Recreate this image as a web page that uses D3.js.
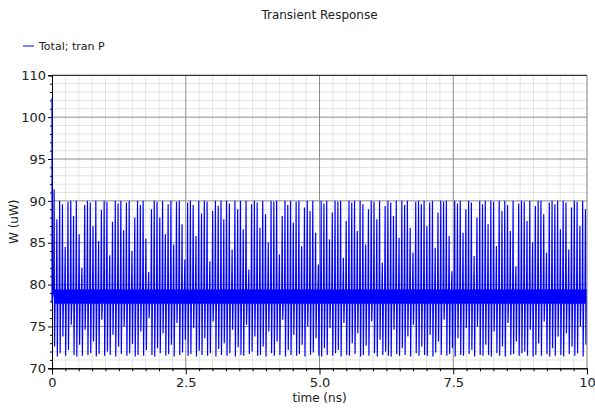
<!DOCTYPE html>
<html><head><meta charset="utf-8">
<script src="https://cdn.jsdelivr.net/npm/d3@7"></script>
<style>body{margin:0;background:#fff} text{font-family:"DejaVu Sans",sans-serif}</style>
</head><body><svg id="c" width="595" height="408"></svg>
<script>
const title = "Transient Response";
const seriesName = "Total; tran P";
const xLabel = "time (ns)";
const yLabel = "W (uW)";
const xTickValues = [0, 2.5, 5, 7.5, 10];
const xTickLabels = ["0", "2.5", "5.0", "7.5", "10"];
const yTickValues = [70, 75, 80, 85, 90, 95, 100, 105];
const yTickLabels = ["70", "75", "80", "85", "90", "95", "100", "110"];
const startValue = 102.3, startDrop = 77.8;
const spikeStart = 0.03, spikePeriod = 0.052;
const bandHigh = 79.4, bandLow = 77.7;
const peaks = [
91.4,87.8,90.0,89.6,84.5,89.9,90.0,88.2,90.0,86.0,82.0,89.5,
90.0,89.8,87.0,90.0,85.2,88.9,90.0,89.9,83.5,87.5,90.0,89.7,
90.0,86.5,89.8,90.0,84.0,88.0,90.0,89.5,90.0,85.5,81.5,89.0,
90.0,89.9,88.0,90.0,86.0,89.6,90.0,84.8,89.9,90.0,87.2,83.0,
89.8,90.0,89.5,85.8,90.0,88.5,90.0,89.9,82.8,88.8,90.0,89.4,
90.0,87.8,90.0,89.7,84.2,90.0,89.0,90.0,86.6,90.0,81.8,89.6,
90.0,89.8,86.8,90.0,88.4,85.0,90.0,89.9,90.0,83.6,88.2,90.0,
89.5,90.0,87.4,89.9,90.0,84.6,89.2,90.0,88.8,90.0,86.2,82.4,
90.0,89.7,90.0,85.4,88.6,90.0,89.9,90.0,83.2,87.6,90.0,89.8,
90.0,86.4,90.0,89.6,84.8,89.0,90.0,89.9,87.8,90.0,82.6,89.4,
90.0,89.8,88.2,90.0,85.6,90.0,89.5,90.0,86.8,83.8,89.9,90.0,
89.6,90.0,87.0,89.8,90.0,84.4,88.6,90.0,89.9,90.0,85.8,81.6,
90.0,89.7,90.0,86.2,89.0,90.0,89.8,83.4,88.0,90.0,89.6,90.0,
87.2,90.0,89.9,84.6,90.0,88.8,90.0,89.5,86.4,90.0,82.2,89.7,
90.0,89.9,87.6,90.0,85.0,89.4,90.0,90.0,88.4,83.8,89.8,90.0,
89.6,90.0,86.6,90.0,89.8,84.2,89.2,90.0,89.9,87.0,90.0,89.0];
const troughs = [
72.6,71.4,71.8,73.8,71.5,72.2,75.2,71.6,71.4,72.8,71.5,74.6,
71.6,71.8,73.2,71.4,71.7,75.8,71.5,72.0,71.6,74.0,71.4,72.6,
71.7,75.0,71.5,71.8,72.9,71.4,71.6,74.4,71.5,72.2,76.0,71.6,
71.4,72.4,71.8,74.2,71.5,71.7,72.8,71.4,75.4,71.6,71.9,73.4,
71.5,71.7,74.8,71.4,72.1,71.6,73.6,71.5,71.8,75.6,71.4,72.3,
71.6,73.0,71.5,71.8,74.6,71.4,72.5,71.6,71.5,75.2,71.7,72.0,
73.8,71.5,71.6,72.6,71.4,74.4,71.8,71.5,73.2,71.6,75.8,71.4,
72.2,71.6,74.0,71.5,71.7,72.8,71.4,75.0,71.6,71.9,73.6,71.5,
71.4,72.4,71.6,74.8,71.5,71.8,72.2,71.4,75.4,71.6,71.5,73.0,
71.7,74.2,71.4,71.6,72.7,71.5,75.6,71.8,71.4,73.4,71.6,72.0,
71.5,71.4,74.6,71.7,71.5,72.4,71.6,73.8,71.4,75.2,71.8,71.5,
72.6,71.6,71.5,74.0,71.4,71.9,73.2,71.6,75.8,71.5,71.7,72.4,
71.4,73.6,71.6,71.5,74.8,71.7,72.2,71.4,75.0,71.6,71.5,72.8,
71.6,71.4,74.4,71.8,71.5,72.6,71.4,75.4,71.6,71.7,73.2,71.5,
71.8,72.0,71.5,74.6,71.4,71.6,73.0,71.5,75.6,71.7,71.4,72.4,
71.5,73.8,71.6,71.4,74.2,71.7,72.6,71.5,71.8,75.0,71.4,72.8];

const L = 52, R = 587, T = 75.3, B = 368.3;
const svg = d3.select("#c");
const x = d3.scaleLinear().domain([0, 10]).range([L, R]);
const y = d3.scaleLinear().domain([70, 105]).range([B, T]);

// minor grid
const xMinor = d3.range(0, 10.0001, 0.25).filter(v => !xTickValues.includes(v));
const yMinor = d3.range(70, 105.0001, 1).filter(v => !yTickValues.includes(v));
const grid = svg.append("g");
grid.selectAll(".vx").data(xMinor).join("line")
  .attr("x1", d => x(d)).attr("x2", d => x(d)).attr("y1", T).attr("y2", B)
  .attr("stroke", "#e3e3e3");
grid.selectAll(".hy").data(yMinor).join("line")
  .attr("x1", L).attr("x2", R).attr("y1", d => y(d)).attr("y2", d => y(d))
  .attr("stroke", "#e3e3e3");
// major grid
grid.selectAll(".vX").data(xTickValues.slice(1, -1)).join("line")
  .attr("x1", d => x(d)).attr("x2", d => x(d)).attr("y1", T).attr("y2", B)
  .attr("stroke", "#8c8c8c");
grid.selectAll(".hY").data(yTickValues.slice(1, -1)).join("line")
  .attr("x1", L).attr("x2", R).attr("y1", d => y(d)).attr("y2", d => y(d))
  .attr("stroke", "#8c8c8c");

// axes
const yAxisMinor = d3.axisLeft(y).tickValues(yMinor).tickSize(2).tickFormat("");
const yAxis = d3.axisLeft(y).tickValues(yTickValues).tickSize(4).tickPadding(2)
  .tickFormat((d, i) => yTickLabels[i]);
const xAxisMinor = d3.axisBottom(x).tickValues(xMinor).tickSize(3).tickFormat("");
const xAxis = d3.axisBottom(x).tickValues(xTickValues).tickSize(6).tickPadding(3)
  .tickFormat((d, i) => xTickLabels[i]);
function style(g) {
  g.selectAll("path").attr("stroke", "#000");
  g.selectAll("line").attr("stroke", "#000");
  g.selectAll("text").attr("font-family", "DejaVu Sans").attr("font-size", 13).attr("fill", "#222");
}
svg.append("g").attr("transform", `translate(${L},0)`).call(yAxisMinor).call(style);
svg.append("g").attr("transform", `translate(${L},0)`).call(yAxis).call(style);
svg.append("g").attr("transform", `translate(0,${B})`).call(xAxisMinor).call(style);
svg.append("g").attr("transform", `translate(0,${B})`).call(xAxis).call(style);

// signal
const pts = [[0, startValue], [0, startDrop]];
const e = 0.009;
peaks.forEach((p, i) => {
  const t = spikeStart + i * spikePeriod;
  pts.push([t, bandHigh], [t + e, p], [t + 2 * e, troughs[i]], [t + 3 * e, bandLow]);
  for (let k = 1; k <= 5; k++) pts.push([t + 3 * e + k * 0.0045, k % 2 ? bandHigh : bandLow]);
});
svg.append("clipPath").attr("id", "clip").append("rect")
  .attr("x", L - 1).attr("y", T).attr("width", R - L + 1).attr("height", B - T);
svg.append("path").attr("clip-path", "url(#clip)")
  .attr("d", d3.line().x(d => x(d[0])).y(d => y(d[1]))(pts))
  .attr("fill", "none").attr("stroke", "#0000ff").attr("stroke-width", 1.2);

// borders
svg.append("line").attr("x1", L).attr("x2", R).attr("y1", T).attr("y2", T).attr("stroke", "#000");
svg.append("line").attr("x1", R).attr("x2", R).attr("y1", T).attr("y2", B).attr("stroke", "#808080");

// texts
svg.append("text").attr("x", (L + R) / 2).attr("y", 19).attr("text-anchor", "middle")
  .attr("font-size", 12).attr("fill", "#222").text(title);
svg.append("line").attr("x1", 23).attr("x2", 34).attr("y1", 46).attr("y2", 46)
  .attr("stroke", "#0000ff").attr("stroke-width", 1);
svg.append("text").attr("x", 39).attr("y", 50).attr("font-size", 11).attr("fill", "#222").text(seriesName);
svg.append("text").attr("x", (L + R) / 2).attr("y", 402).attr("text-anchor", "middle")
  .attr("font-size", 12).attr("fill", "#222").text(xLabel);
svg.append("text").attr("transform", `translate(18,${(T + B) / 2}) rotate(-90)`)
  .attr("text-anchor", "middle").attr("font-size", 12).attr("fill", "#222").text(yLabel);
</script></body></html>
